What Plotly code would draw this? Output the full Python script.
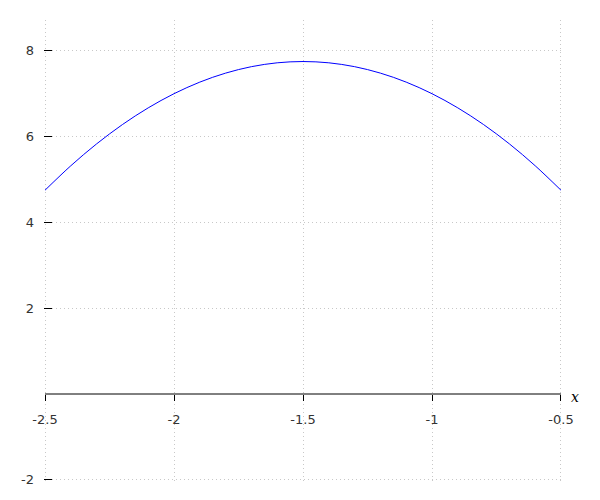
import plotly.graph_objects as go

x_vals = [-2.5, -2.4, -2.3, -2.2, -2.1, -2.0, -1.9, -1.8, -1.7, -1.6, -1.5,
          -1.4, -1.3, -1.2, -1.1, -1.0, -0.9, -0.8, -0.7, -0.6, -0.5]
y_vals = [4.75, 5.32, 5.83, 6.28, 6.67, 7.00, 7.27, 7.48, 7.63, 7.72, 7.75,
          7.72, 7.63, 7.48, 7.27, 7.00, 6.67, 6.28, 5.83, 5.32, 4.75]
x_ticks = [-2.5, -2, -1.5, -1, -0.5]
x_tick_labels = ["-2.5", "-2", "-1.5", "-1", "-0.5"]
y_ticks = [-2, 2, 4, 6, 8]
y_tick_labels = ["-2", "2", "4", "6", "8"]
x_range = [-2.5039, -0.4961]
y_range = [-2.028, 8.718]

fig = go.Figure()
fig.add_trace(go.Scatter(x=x_vals, y=y_vals, mode="lines",
                         line=dict(color="#0000ff", width=1, shape="spline"),
                         showlegend=False, hoverinfo="skip"))

zero_pos = (0 - y_range[0]) / (y_range[1] - y_range[0])

fig.update_layout(
    width=600, height=500,
    margin=dict(l=36, r=46, t=12, b=27),
    paper_bgcolor="white", plot_bgcolor="white",
    font=dict(family="DejaVu Sans", size=13, color="#333333"),
    xaxis=dict(range=x_range, tickvals=x_ticks, ticktext=x_tick_labels,
               showgrid=True, gridcolor="#c8c8c8", griddash="1px,3px", gridwidth=1,
               zeroline=False, showline=False,
               ticks="outside", ticklen=6, tickcolor="#000000",
               ticklabelstandoff=7, automargin=False,
               anchor="free", position=zero_pos, side="bottom"),
    yaxis=dict(range=y_range, tickvals=y_ticks, ticktext=y_tick_labels,
               showgrid=True, gridcolor="#c8c8c8", griddash="1px,3px", gridwidth=1,
               zeroline=False, showline=False, automargin=False,
               ticks="inside", ticklen=8, tickcolor="#000000", ticklabelstandoff=9),
)
# x axis line from -2.5 to -0.5 at y=0
fig.add_shape(type="line", xref="x", yref="y", x0=x_ticks[0], x1=x_ticks[-1], y0=0, y1=0,
              line=dict(color="#000000", width=1))
fig.add_annotation(x=x_ticks[-1], xref="x", y=0, yref="y", text="<i>x</i>",
                   showarrow=False, xanchor="left", yanchor="middle", xshift=8, yshift=-3,
                   font=dict(family="DejaVu Serif", size=14, color="#000000"))

fig.write_html("out.html")
